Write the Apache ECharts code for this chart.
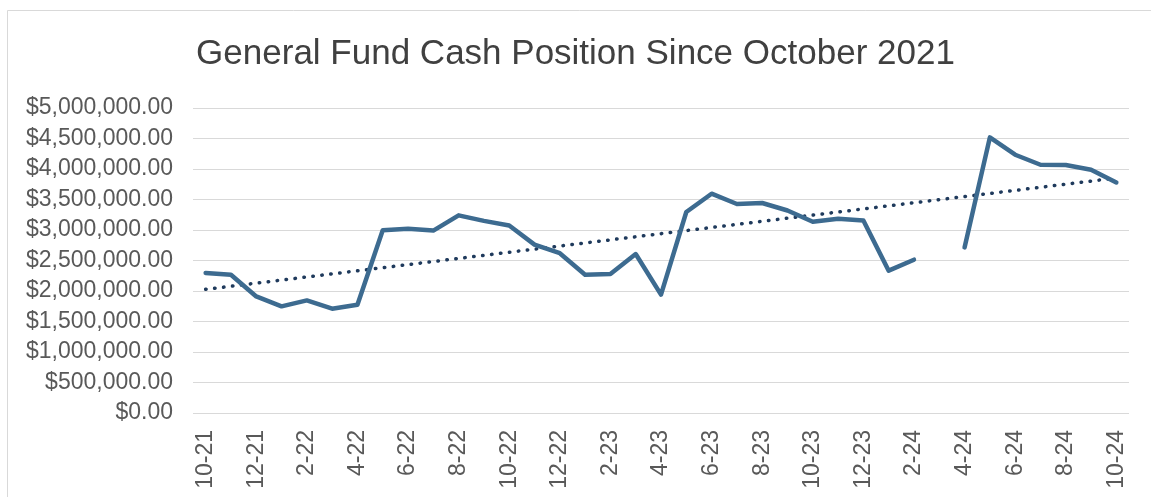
<!DOCTYPE html>
<html>
<head>
<meta charset="utf-8">
<script src="https://cdn.jsdelivr.net/npm/echarts@6/dist/echarts.min.js"></script>
<style>
  html, body { margin: 0; padding: 0; background: #ffffff; }
  #chart { width: 1151px; height: 497px; }
</style>
</head>
<body>
<div id="chart"></div>
<script>
  // months, Oct 2021 .. Oct 2024
  const months = ['10-21','11-21','12-21','1-22','2-22','3-22','4-22','5-22','6-22','7-22','8-22','9-22',
    '10-22','11-22','12-22','1-23','2-23','3-23','4-23','5-23','6-23','7-23','8-23','9-23',
    '10-23','11-23','12-23','1-24','2-24','3-24','4-24','5-24','6-24','7-24','8-24','9-24','10-24']

  // cash position (3-24 missing)
  const cash = [2295000, 2267000, 1911000, 1748000, 1846000, 1710000, 1775000, 2997000, 3020000, 2990000,
    3240000, 3150000, 3075000, 2760000, 2620000, 2267000, 2280000, 2606000, 1940000, 3295000,
    3595000, 3426000, 3443000, 3320000, 3136000, 3185000, 3157000, 2333000, 2513000, null,
    2715000, 4518000, 4234000, 4070000, 4066000, 3989000, 3780000]

  const yTicks = { min: 0, max: 5000000, interval: 500000 }

  // linear trend like excel's trendline
  function trend(vals) {
    let n = 0, sx = 0, sy = 0, sxx = 0, sxy = 0
    vals.forEach((v, i) => {
      if (v == null) return
      n++; sx += i; sy += v; sxx += i * i; sxy += i * v
    })
    const b = (n * sxy - sx * sy) / (n * sxx - sx * sx)
    const a = (sy - b * sx) / n
    return vals.map((v, i) => a + b * i)
  }

  const chart = echarts.init(document.getElementById('chart'))
  const txt = '#595959'
  const font = 'Liberation Sans'

  const fmt = v => '$' + v.toLocaleString('en-US', { minimumFractionDigits: 2, maximumFractionDigits: 2 })

  chart.setOption({
    animation: false,
    backgroundColor: '#ffffff',
    graphic: [{
      type: 'rect',
      shape: { x: 7.5, y: 10.5, width: 1200, height: 600 },
      style: { fill: 'none', stroke: '#d9d9d9', lineWidth: 1 }
    }],
    title: {
      text: 'General Fund Cash Position Since October 2021',
      left: 'center',
      top: 32,
      textStyle: { fontFamily: font, fontSize: 35, fontWeight: 'normal', color: '#404040' }
    },
    grid: { left: 193, right: 22, top: 108, bottom: 84 },
    xAxis: {
      type: 'category',
      data: months,
      boundaryGap: true,
      axisLine: { show: false },
      axisTick: { show: false },
      axisLabel: {
        interval: 1,
        rotate: 90,
        margin: 17,
        color: txt,
        fontFamily: font,
        fontSize: 23
      }
    },
    yAxis: {
      type: 'value',
      min: yTicks.min,
      max: yTicks.max,
      interval: yTicks.interval,
      axisLine: { show: false },
      axisTick: { show: false },
      splitLine: { lineStyle: { color: '#d9d9d9', width: 1 } },
      axisLabel: {
        margin: 20,
        color: txt,
        fontFamily: font,
        fontSize: 23,
        formatter: fmt
      }
    },
    series: [
      {
        name: 'Cash',
        type: 'line',
        data: cash,
        symbol: 'none',
        connectNulls: false,
        lineStyle: { color: '#3d6b90', width: 4.5, join: 'round', cap: 'round' },
        z: 3
      },
      {
        name: 'Trend',
        type: 'line',
        data: trend(cash),
        symbol: 'none',
        lineStyle: { color: '#1f3a5c', width: 3.5, type: [0.5, 8.5], cap: 'round' },
        z: 2
      }
    ]
  })
</script>
</body>
</html>
